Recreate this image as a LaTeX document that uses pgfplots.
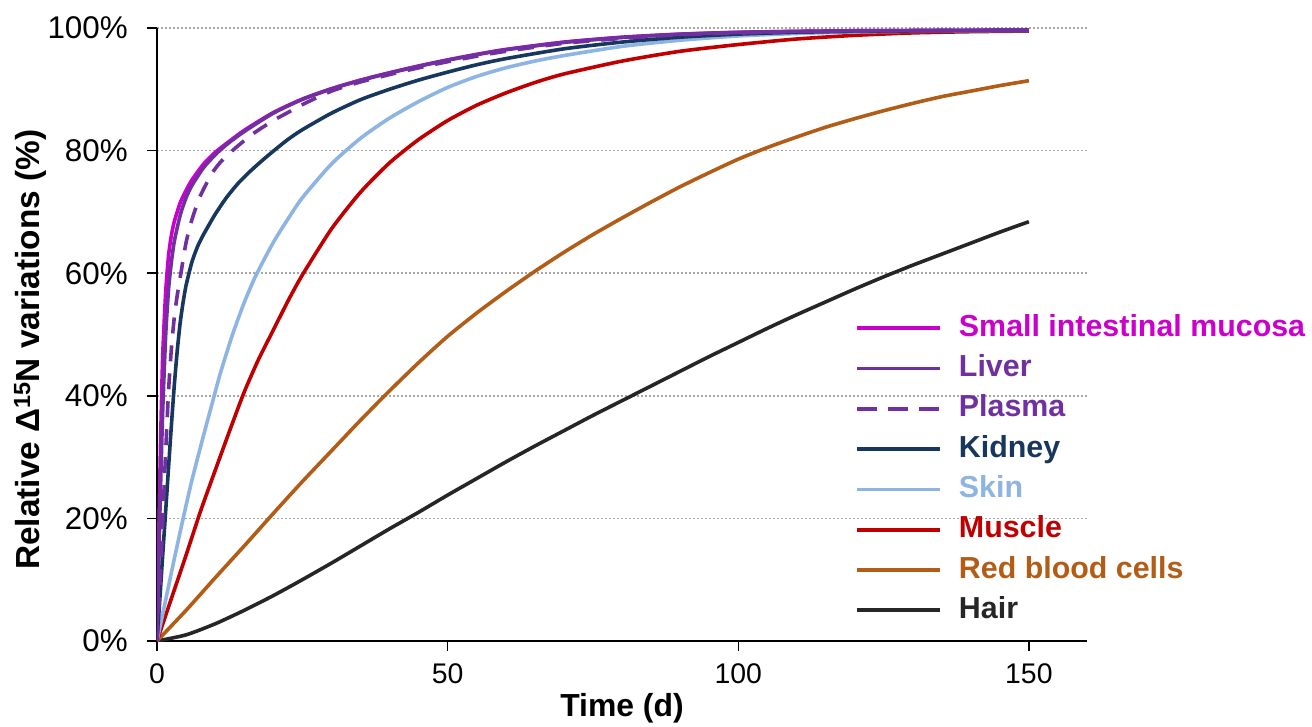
\documentclass[border=0pt]{standalone}
\usepackage{pgfplots}
\pgfplotsset{compat=1.18}
\usepackage{fontspec}
\setmainfont{Liberation Sans}
\definecolor{cSIM}{RGB}{204,0,204}
\definecolor{cLiv}{RGB}{112,48,160}
\definecolor{cKid}{RGB}{23,55,94}
\definecolor{cSkin}{RGB}{141,180,226}
\definecolor{cMus}{RGB}{192,0,0}
\definecolor{cRBC}{RGB}{178,92,22}
\definecolor{cHair}{RGB}{38,38,38}

\pgfplotstableread{
t v
0 0
0.25 14
0.5 27
0.75 38
1 47
1.5 57
2 63
2.5 66.3
3 68.5
4 71.5
5 73.5
6 75.2
8 77.8
10 79.7
12 81.2
15 83.3
20 86.2
25 88.4
30 90.1
35 91.5
40 92.7
45 93.8
50 94.8
55 95.7
60 96.5
70 97.7
80 98.5
90 99.0
100 99.3
110 99.45
120 99.55
135 99.6
150 99.65
}\sim

\pgfplotstableread{
t v
0 0
0.25 11
0.5 21
0.75 30
1 38
1.5 50
2 57.5
2.5 62
3 65.3
4 69.5
5 72.3
6 74.3
8 77.2
10 79.3
12 81.0
15 83.1
20 86.1
25 88.35
30 90.05
35 91.45
40 92.65
45 93.75
50 94.75
55 95.65
60 96.45
70 97.65
80 98.45
90 98.98
100 99.28
110 99.44
120 99.54
135 99.6
150 99.65
}\liver

\pgfplotstableread{
t v
0 0
0.5 9
1 20
1.5 31
2 41
2.5 48
3 53
3.5 56.5
4.2 60.5
5 65
6 68.7
7.4 72.5
9.4 76.2
11 78.2
13.1 80.1
16.3 82.6
20 84.9
22.5 86.2
25 87.5
30 89.7
35 91.2
40 92.4
45 93.5
50 94.5
55 95.4
60 96.2
70 97.5
80 98.3
90 98.9
100 99.2
110 99.4
120 99.5
135 99.6
150 99.65
}\plasma

\pgfplotstableread{
t v
0 0
0.5 7
1 14.3
1.5 21.3
2 28.5
2.5 35.5
3 42
3.5 47.5
4 52
4.5 55.3
5 58
6 61.8
7 64.4
8 66.3
10 69.6
12 72.4
14 74.7
16 76.6
18 78.3
20 79.9
22.5 81.8
25 83.4
30 86.1
35 88.3
40 90.0
45 91.5
50 92.8
55 94.0
60 95.0
70 96.6
80 97.7
90 98.5
100 99.0
110 99.3
120 99.45
135 99.55
150 99.6
}\kidney

\pgfplotstableread{
t v
0 0
1 4.5
2 9
3 13.5
4.5 20
6 26.2
8 33.5
9.7 39.5
11 44
13 50
15 55.2
17 59.6
20 65.0
22.5 68.8
25 72.3
30 77.8
35 82.0
40 85.3
45 88.0
50 90.3
55 92.1
60 93.5
65 94.6
70 95.5
80 97.0
90 98.0
100 98.7
110 99.1
120 99.35
135 99.5
150 99.6
}\skin

\pgfplotstableread{
t v
0 0
2.5 7
5 14
7.5 21.2
10 27.8
12.5 34.3
15 40.6
17.5 46
20 50.7
22.5 55.4
25 59.7
30 67.2
35 73.2
40 78.0
45 81.8
50 84.9
55 87.4
60 89.4
65 91.1
70 92.5
80 94.6
90 96.2
100 97.3
110 98.2
120 98.8
130 99.2
140 99.4
150 99.5
}\muscle

\pgfplotstableread{
t v
0 0
5 5.0
10 10.3
15 15.5
20 20.8
25 26.0
30 31.0
35 36.0
40 40.8
45 45.4
50 49.7
55 53.5
60 57.0
65 60.3
70 63.4
75 66.3
80 69.0
85 71.6
90 74.1
95 76.4
100 78.6
105 80.5
110 82.2
115 83.8
120 85.2
125 86.5
130 87.7
135 88.8
140 89.7
145 90.6
150 91.4
}\rbc

\pgfplotstableread{
t v
0 0
5 1.0
10 2.8
15 5.0
20 7.4
25 10.0
30 12.7
35 15.5
40 18.3
45 21.0
50 23.8
55 26.5
60 29.2
65 31.8
70 34.3
75 36.8
80 39.2
85 41.6
90 44.0
95 46.4
100 48.7
105 51.0
110 53.2
115 55.3
120 57.4
125 59.4
130 61.3
135 63.1
140 64.9
145 66.7
150 68.4
}\hair

\begin{document}
\begin{tikzpicture}
\begin{axis}[
  scale only axis, width=930bp, height=613bp,
  xmin=0, xmax=160, ymin=0, ymax=100,
  axis x line*=bottom, axis y line*=left,
  axis line style={line width=1.8bp, black, -},
  xtick={0,50,100,150}, ytick={0,20,...,100},
  tick align=outside, major tick length=10bp,
  tick style={line width=1.5bp, black},
  ymajorgrids,
  major grid style={black!35, line width=1.6bp, dash pattern=on 1.6bp off 2.4bp},
  yticklabel={\pgfmathprintnumber{\tick}\%},
  /pgf/number format/assume math mode=true,
  yticklabel style={font=\fontsize{31.5}{36}\selectfont, inner sep=0pt, anchor=east, xshift=-19bp},
  xticklabel style={font=\fontsize{28.5}{34}\selectfont, inner sep=0pt, anchor=north, yshift=-12bp},
  xlabel={Time (d)},
  ylabel={Relative Δ\textsuperscript{15}N variations (\%)},
  xlabel style={font=\bfseries\fontsize{32}{38}\selectfont, at={(axis description cs:0.5,-0.109)}, anchor=center},
  ylabel style={font=\bfseries\fontsize{33.5}{38}\selectfont, at={(axis description cs:-0.1366,0.475)}, anchor=center},
  legend style={at={(axis description cs:0.7505,0.5334)}, anchor=north west, draw=none, fill=none, inner sep=0pt,
    font=\bfseries\fontsize{30.5}{36}\selectfont, row sep=12.3bp,
    nodes={inner sep=0pt, text height=22bp, text depth=6bp},
    /tikz/every odd column/.append style={column sep=17bp}},
  legend cell align=left,
  legend image code/.code={\draw[#1] (0bp,0bp) -- (83bp,0bp);},
  every axis plot/.append style={line width=3.6bp},
]
\addlegendimage{cSIM, line width=3.8bp}
\addlegendentry{\textcolor{cSIM}{Small intestinal mucosa}}
\addlegendimage{cLiv, line width=3.8bp}
\addlegendentry{\textcolor{cLiv}{Liver}}
\addlegendimage{cLiv, line width=3.8bp, dash pattern=on 20bp off 11bp}
\addlegendentry{\textcolor{cLiv}{Plasma}}
\addlegendimage{cKid, line width=3.8bp}
\addlegendentry{\textcolor{cKid}{Kidney}}
\addlegendimage{cSkin, line width=3.8bp}
\addlegendentry{\textcolor{cSkin}{Skin}}
\addlegendimage{cMus, line width=3.8bp}
\addlegendentry{\textcolor{cMus}{Muscle}}
\addlegendimage{cRBC, line width=3.8bp}
\addlegendentry{\textcolor{cRBC}{Red blood cells}}
\addlegendimage{cHair, line width=3.8bp}
\addlegendentry{\textcolor{cHair}{Hair}}

\addplot[cHair, smooth, tension=0.4, forget plot] table[x=t,y=v] {\hair};
\addplot[cRBC, smooth, tension=0.4, forget plot] table[x=t,y=v] {\rbc};
\addplot[cMus, smooth, tension=0.4, forget plot] table[x=t,y=v] {\muscle};
\addplot[cSkin, smooth, tension=0.4, forget plot] table[x=t,y=v] {\skin};
\addplot[cSIM, smooth, tension=0.4, forget plot] table[x=t,y=v] {\sim};
\addplot[cKid, smooth, tension=0.4, forget plot] table[x=t,y=v] {\kidney};
\addplot[cLiv, smooth, tension=0.4, forget plot] table[x=t,y=v] {\liver};
\addplot[cLiv, smooth, tension=0.4, dash pattern=on 16bp off 12bp, forget plot] table[x=t,y=v] {\plasma};
\end{axis}
\pgfresetboundingbox
\path (-157bp,-86bp) rectangle (1155bp,641bp);
\end{tikzpicture}
\end{document}
